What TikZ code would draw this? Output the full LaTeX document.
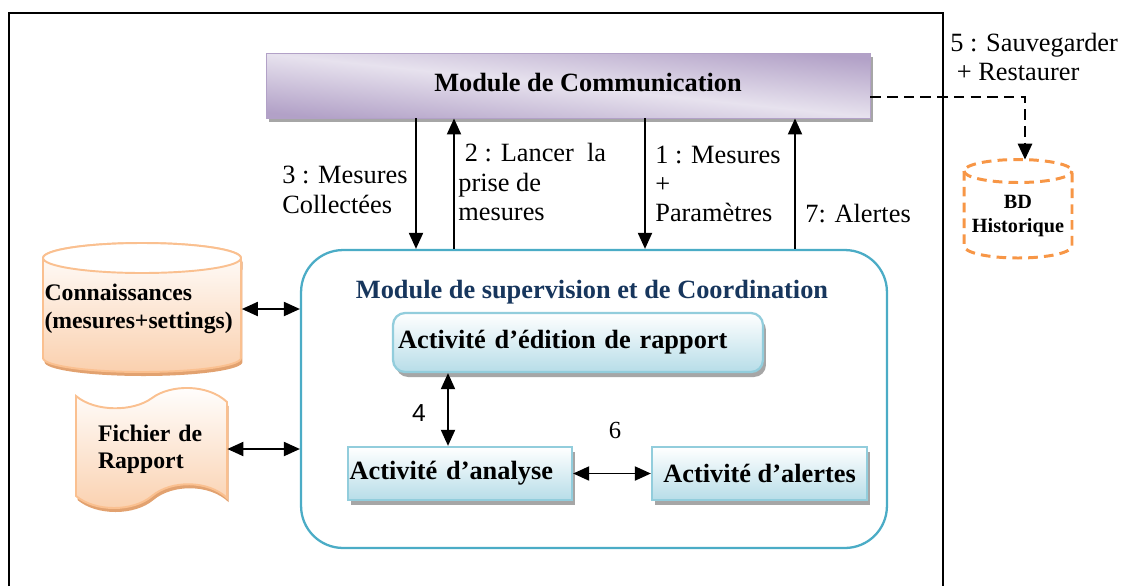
\documentclass[tikz,border=0pt]{standalone}
\usepackage{fontspec}
\setmainfont{Liberation Serif}
\setsansfont{Liberation Sans}
\usepackage{tikz}
\usetikzlibrary{arrows.meta}
\usetikzlibrary{shadows}
\definecolor{comdark}{RGB}{178, 161, 199}
\definecolor{comlight}{RGB}{231, 226, 238}
\definecolor{supborder}{RGB}{75, 172, 198}
\definecolor{suptitle}{RGB}{23, 54, 93}
\definecolor{actborder}{RGB}{146, 205, 220}
\definecolor{actfill}{RGB}{183, 221, 232}
\definecolor{peachline}{RGB}{250, 192, 144}
\definecolor{peachfill}{RGB}{250, 208, 174}
\definecolor{peachshadow}{RGB}{226, 162, 112}
\definecolor{bdorange}{RGB}{247, 150, 70}
\tikzset{>={Triangle[length=3.2mm,width=2.8mm]}}
\tikzset{
    lbl/.style={inner sep=0pt, align=left, font=\fontsize{15}{16.7}\selectfont},
    boldlbl/.style={inner sep=0pt, align=left, font=\fontsize{15}{17}\selectfont\bfseries},
    peachlbl/.style={inner sep=0pt, align=left, font=\fontsize{13.5}{15.6}\selectfont\bfseries},
    bdlbl/.style={inner sep=0pt, align=center, font=\fontsize{11.5}{13.6}\selectfont\bfseries},
    commbox/.style={draw=comdark, line width=0.5pt, top color=comdark, bottom color=comdark, middle color=comlight, shading angle=-6,
        drop shadow={shadow xshift=0.06cm, shadow yshift=-0.08cm, fill=black!35, opacity=1}},
    supbox/.style={draw=supborder, line width=1.3pt, rounded corners=0.84cm, fill=white},
    actbox/.style={draw=actborder, line width=1.3pt, top color=white, bottom color=actfill, align=left, font=\fontsize{15}{17}\selectfont\bfseries,
        drop shadow={shadow xshift=0.06cm, shadow yshift=-0.1cm, fill=black!35, opacity=1}},
    peachshape/.style={draw=peachline, line width=1.1pt, top color=white, bottom color=peachfill,
        drop shadow={shadow xshift=0.03cm, shadow yshift=-0.08cm, fill=peachshadow, opacity=1}},
    bdline/.style={draw=bdorange, line width=1.7pt, dash pattern=on 5.5pt off 3.5pt},
    link/.style={line width=1.1pt},
    dashlink/.style={line width=1.6pt, dash pattern=on 6pt off 3.5pt},
}

\begin{document}
\begin{tikzpicture}[x=0.02cm, y=-0.02cm]
    \useasboundingbox (0,0) rectangle (1122,586);

    \draw[line width=1.1pt] (9,586) -- (9,13) -- (943,13) -- (943,586); % cadre

    % formes dessinees
    \path[peachshape] (43,258) -- (43,358) arc[start angle=180, end angle=360, x radius=1.98cm, y radius=0.28cm]
        -- (241,258) arc[start angle=0, end angle=180, x radius=1.98cm, y radius=0.3cm] -- cycle;
    \draw[peachline, line width=1.1pt, fill=white] (142,258) ellipse[x radius=1.98cm, y radius=0.3cm];
    \path[peachshape] (76,396) .. controls (95,412) and (133,412) .. (152,398) .. controls (171,384) and (208,384) .. (227,402)
        -- (227,498) .. controls (208,480) and (171,480) .. (152,496) .. controls (133,512) and (95,512) .. (76,496) -- cycle;
    \draw[bdline] (964,171) -- (964,246) arc[start angle=180, end angle=360, x radius=1.08cm, y radius=0.24cm]
        -- (1072,171) arc[start angle=0, end angle=180, x radius=1.08cm, y radius=0.23cm] -- cycle;
    \draw[bdline] (964,171) arc[start angle=180, end angle=360, x radius=1.08cm, y radius=0.23cm];

    \node[commbox, minimum width=12.08cm, minimum height=1.3cm,
        label={[boldlbl, xshift=0.4cm, yshift=0.06cm]center:Module de Communication}] (comm) at (568,85.5) {};
    \node[supbox, minimum width=11.72cm, minimum height=5.96cm] (sup) at (594,399) {};
    \node[boldlbl, text=suptitle] (suptitle) at (592,292) {Module de supervision et de Coordination};

    \node[actbox, rounded corners=0.24cm, minimum width=7.4cm, minimum height=1.18cm, text width=7.2cm, inner xsep=0.1cm] (edit) at (578,342.5) {Activité d’édition de rapport};
    \node[actbox, minimum width=4.48cm, minimum height=1.06cm, text width=4.42cm, inner xsep=0.03cm] (an) at (460,473.5) {Activité d’analyse};
    \node[actbox, minimum width=4.3cm, minimum height=1.06cm] (al) at (759.5,473.5) {Activité d’alertes};

    \node[peachlbl, text width=3.9cm, inner xsep=0.04cm] (know) at (142,309) {Connaissances\\(mesures+settings)};
    \node[peachlbl, minimum width=3.02cm, text width=2.14cm, inner xsep=0.44cm] (doc) at (151.5,449) {Fichier de\\Rapport};
    \node[minimum width=2.16cm, minimum height=1.96cm, label={[bdlbl, yshift=-0.14cm]center:BD\\Historique}] (bd) at (1018,209) {};

    % abscisses des fleches
    \coordinate (x3) at (416,0);
    \coordinate (x2) at (454,0);
    \coordinate (x1) at (645,0);
    \coordinate (x7) at (795,0);
    \coordinate (x4) at (448,0);
    \coordinate (x5) at (1025,0);
    \coordinate (y5) at (0,97);

    \draw[link,->] (x3 |- comm.south) -- (x3 |- sup.north);
    \draw[link,->] (x2 |- sup.north) -- (x2 |- comm.south);
    \draw[link,->] (x1 |- comm.south) -- (x1 |- sup.north);
    \draw[link,->] (x7 |- sup.north) -- (x7 |- comm.south);
    \draw[link,<->] (x4 |- edit.south) -- (x4 |- an.north);
    \draw[link,<->] (an.east) -- (al.west);
    \draw[link,<->] (know.east) -- (sup.west |- know.east);
    \draw[link,<->] (doc.east) -- (sup.west |- doc.east);
    \draw[dashlink,->] (comm.east |- y5) -| (x5 |- bd.north);

    \node[lbl, anchor=west] (lab3) at (282,190) {3 : Mesures\\Collectées};
    \node[lbl, anchor=west] (lab2) at (458,182) {\ 2 : Lancer\ \ la\\prise de\\mesures};
    \node[lbl, anchor=west] (lab1) at (655,184) {1 : Mesures\\+\\Paramètres};
    \node[lbl, anchor=west] (lab7) at (805,214) {7: Alertes};
    \node[lbl, anchor=west] (lab5) at (950,57) {5 : Sauvegarder\\\ + Restaurer};
    \node[inner sep=0pt, font=\sffamily\fontsize{14}{16}\selectfont] (lab4) at (419,413) {4};
    \node[inner sep=0pt, font=\fontsize{14}{16}\selectfont] (lab6) at (615,430) {6};

\end{tikzpicture}
\end{document}
